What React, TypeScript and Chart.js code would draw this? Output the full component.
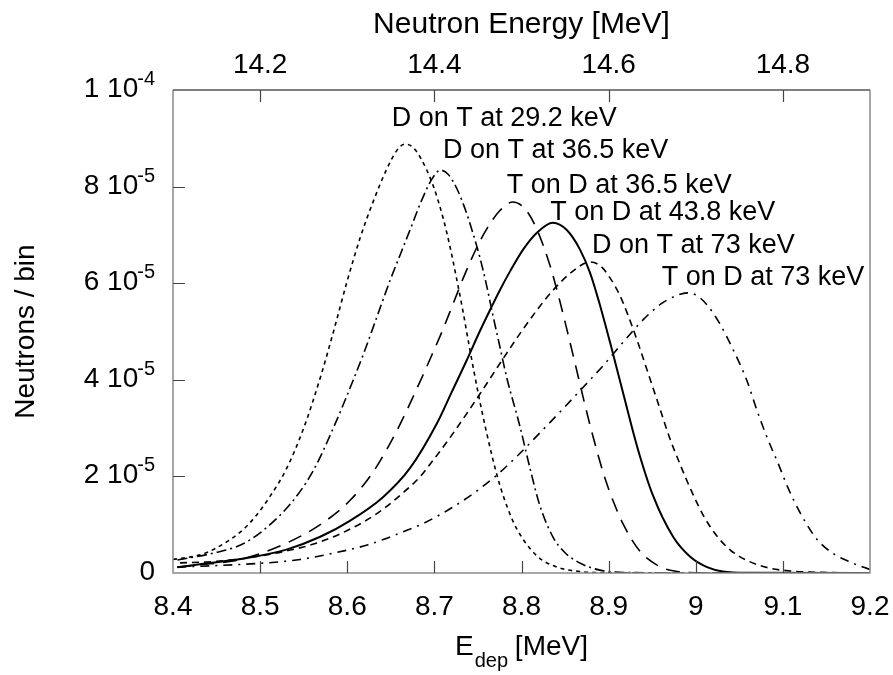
import React, { useEffect, useRef } from "react";
import { Chart, registerables } from "chart.js";

Chart.register(...registerables);

const FONT = '"Liberation Sans", Arial, Helvetica, sans-serif';

// ---- axes ----
const xTicks = [8.4, 8.5, 8.6, 8.7, 8.8, 8.9, 9.0, 9.1, 9.2];
const xTickLabels = ["8.4", "8.5", "8.6", "8.7", "8.8", "8.9", "9", "9.1", "9.2"];
const topTicks = [14.2, 14.4, 14.6, 14.8];
const topTickLabels = ["14.2", "14.4", "14.6", "14.8"];
const yTicks = [0, 2e-5, 4e-5, 6e-5, 8e-5, 1e-4];
const yTickLabels = ["0", "2 10^-5", "4 10^-5", "6 10^-5", "8 10^-5", "1 10^-4"];

// ---- series: D on T at 29.2 keV ----
const dt292X = [8.4, 8.43, 8.45, 8.48, 8.495, 8.51, 8.53, 8.55, 8.57, 8.585, 8.6, 8.615, 8.63, 8.645, 8.657, 8.666, 8.675, 8.684, 8.699, 8.71, 8.718, 8.726, 8.733, 8.741, 8.75, 8.76, 8.773, 8.785, 8.795, 8.818, 8.841, 8.867, 8.9, 9.0, 9.2];
const dt292Y = [2.8e-6, 3.7e-6, 5.2e-6, 8.9e-6, 1.18e-5, 1.55e-5, 2.15e-5, 3.0e-5, 4.1e-5, 5.05e-5, 6.05e-5, 6.95e-5, 7.7e-5, 8.35e-5, 8.75e-5, 8.88e-5, 8.82e-5, 8.6e-5, 8.0e-5, 7.35e-5, 6.75e-5, 6.05e-5, 5.4e-5, 4.6e-5, 3.75e-5, 2.9e-5, 1.95e-5, 1.3e-5, 9.0e-6, 3.5e-6, 1.2e-6, 3e-7, 5e-8, 0, 0];

// ---- series: D on T at 36.5 keV ----
const dt365X = [8.405, 8.446, 8.48, 8.508, 8.538, 8.561, 8.584, 8.607, 8.62, 8.634, 8.649, 8.661, 8.672, 8.685, 8.697, 8.707, 8.716, 8.726, 8.736, 8.744, 8.752, 8.76, 8.767, 8.775, 8.783, 8.798, 8.81, 8.821, 8.836, 8.85, 8.87, 8.89, 8.92, 9.0, 9.2];
const dt365Y = [2.7e-6, 4.1e-6, 6.0e-6, 9.5e-6, 1.5e-5, 2.12e-5, 3.0e-5, 4.0e-5, 4.6e-5, 5.3e-5, 6.05e-5, 6.6e-5, 7.1e-5, 7.7e-5, 8.15e-5, 8.34e-5, 8.25e-5, 7.95e-5, 7.5e-5, 7.05e-5, 6.55e-5, 5.95e-5, 5.35e-5, 4.7e-5, 4.05e-5, 3.05e-5, 2.15e-5, 1.4e-5, 7.5e-6, 4.2e-6, 1.8e-6, 6e-7, 1e-7, 0, 0];

// ---- series: T on D at 36.5 keV ----
const td365X = [8.405, 8.431, 8.469, 8.5, 8.534, 8.569, 8.603, 8.63, 8.657, 8.687, 8.698, 8.71, 8.721, 8.733, 8.749, 8.76, 8.775, 8.79, 8.805, 8.818, 8.833, 8.843, 8.852, 8.862, 8.876, 8.887, 8.896, 8.905, 8.917, 8.936, 8.959, 8.979, 9.0, 9.2];
const td365Y = [1.2e-6, 1.7e-6, 2.5e-6, 4.0e-6, 6.5e-6, 1.0e-5, 1.5e-5, 2.1e-5, 2.95e-5, 4.1e-5, 4.55e-5, 5.05e-5, 5.55e-5, 6.1e-5, 6.75e-5, 7.12e-5, 7.5e-5, 7.68e-5, 7.52e-5, 7.1e-5, 6.35e-5, 5.7e-5, 5.05e-5, 4.3e-5, 3.25e-5, 2.5e-5, 1.95e-5, 1.5e-5, 1.0e-5, 4.5e-6, 1.3e-6, 3e-7, 5e-8, 0];

// ---- series: T on D at 43.8 keV ----
const td438X = [8.405, 8.439, 8.488, 8.531, 8.569, 8.603, 8.641, 8.672, 8.703, 8.72, 8.737, 8.752, 8.764, 8.775, 8.787, 8.802, 8.818, 8.836, 8.852, 8.867, 8.879, 8.89, 8.902, 8.917, 8.933, 8.951, 8.974, 8.994, 9.013, 9.031, 9.06, 9.2];
const td438Y = [1.2e-6, 2.0e-6, 3.2e-6, 4.9e-6, 7.5e-6, 1.08e-5, 1.57e-5, 2.17e-5, 3.1e-5, 3.75e-5, 4.4e-5, 5.0e-5, 5.45e-5, 5.85e-5, 6.25e-5, 6.7e-5, 7.05e-5, 7.25e-5, 7.1e-5, 6.7e-5, 6.2e-5, 5.55e-5, 4.75e-5, 3.7e-5, 2.6e-5, 1.6e-5, 7.5e-6, 3.3e-6, 1.2e-6, 3e-7, 3e-8, 0];

// ---- series: D on T at 73 keV ----
const dt73X = [8.408, 8.45, 8.492, 8.526, 8.565, 8.6, 8.634, 8.664, 8.684, 8.695, 8.721, 8.752, 8.783, 8.798, 8.818, 8.836, 8.859, 8.879, 8.891, 8.902, 8.912, 8.922, 8.934, 8.946, 8.958, 8.97, 8.982, 8.995, 9.01, 9.025, 9.04, 9.06, 9.085, 9.11, 9.15, 9.2];
const dt73Y = [2.1e-6, 2.4e-6, 3.3e-6, 4.4e-6, 6.2e-6, 8.8e-6, 1.23e-5, 1.66e-5, 2.0e-5, 2.25e-5, 2.88e-5, 3.7e-5, 4.55e-5, 4.95e-5, 5.45e-5, 5.85e-5, 6.25e-5, 6.44e-5, 6.35e-5, 6.1e-5, 5.78e-5, 5.35e-5, 4.75e-5, 4.1e-5, 3.45e-5, 2.8e-5, 2.25e-5, 1.7e-5, 1.15e-5, 7.5e-6, 4.7e-6, 2.5e-6, 1.0e-6, 4e-7, 1e-7, 0];

// ---- series: T on D at 73 keV ----
const td73X = [8.405, 8.469, 8.508, 8.546, 8.584, 8.623, 8.661, 8.69, 8.72, 8.745, 8.77, 8.795, 8.82, 8.845, 8.87, 8.895, 8.92, 8.94, 8.96, 8.975, 8.99, 9.0, 9.013, 9.028, 9.043, 9.059, 9.07, 9.082, 9.095, 9.105, 9.12, 9.139, 9.158, 9.181, 9.2];
const td73Y = [1.2e-6, 1.7e-6, 2.1e-6, 2.8e-6, 4.1e-6, 5.8e-6, 8.3e-6, 1.05e-5, 1.35e-5, 1.65e-5, 2.0e-5, 2.42e-5, 2.88e-5, 3.35e-5, 3.83e-5, 4.32e-5, 4.85e-5, 5.25e-5, 5.57e-5, 5.72e-5, 5.8e-5, 5.76e-5, 5.55e-5, 5.15e-5, 4.62e-5, 3.97e-5, 3.38e-5, 2.8e-5, 2.25e-5, 1.8e-5, 1.24e-5, 7.0e-6, 4.0e-6, 2.0e-6, 7e-7];

// ---- curve labels (text + anchor in data coordinates) ----
const labelTexts = ["D on T at 29.2 keV", "D on T at 36.5 keV", "T on D at 36.5 keV", "T on D at 43.8 keV", "D on T at 73 keV", "T on D at 73 keV"];
const labelX = [8.651, 8.71, 8.783, 8.833, 8.881, 8.961];
const labelY = [9.255e-5, 8.59e-5, 7.87e-5, 7.31e-5, 6.625e-5, 5.96e-5];

const seriesList = [
  { name: labelTexts[0], xs: dt292X, ys: dt292Y, dash: [4, 4], width: 1.6 },
  { name: labelTexts[1], xs: dt365X, ys: dt365Y, dash: [10, 4, 2, 4], width: 1.6 },
  { name: labelTexts[2], xs: td365X, ys: td365Y, dash: [14, 9], width: 1.6 },
  { name: labelTexts[3], xs: td438X, ys: td438Y, dash: [], width: 2 },
  { name: labelTexts[4], xs: dt73X, ys: dt73Y, dash: [7, 5], width: 1.6 },
  { name: labelTexts[5], xs: td73X, ys: td73Y, dash: [9, 6, 2, 6], width: 1.6 },
];

const decorPlugin = {
  id: "decor",
  afterDraw(chart: any) {
    const { ctx, chartArea, scales } = chart;
    const { left, right, top, bottom } = chartArea;
    const sx = scales.x;
    const sx2 = scales.x2;
    const sy = scales.y;
    ctx.save();
    ctx.setLineDash([]);

    // frame
    ctx.lineWidth = 1.5;
    ctx.strokeStyle = "#8a8a8a";
    ctx.beginPath();
    ctx.moveTo(left, top);
    ctx.lineTo(left, bottom);
    ctx.lineTo(right, bottom);
    ctx.lineTo(right, top);
    ctx.stroke();
    ctx.strokeStyle = "#555";
    ctx.beginPath();
    ctx.moveTo(left, top);
    ctx.lineTo(right, top);
    ctx.stroke();

    // inward ticks
    ctx.strokeStyle = "#444";
    ctx.lineWidth = 1.2;
    const tl = 12;
    ctx.beginPath();
    xTicks.forEach((v) => {
      const px = Math.round(sx.getPixelForValue(v)) + 0.5;
      if (px > left + 2 && px < right - 2) {
        ctx.moveTo(px, bottom);
        ctx.lineTo(px, bottom - tl);
      }
    });
    topTicks.forEach((v) => {
      const px = Math.round(sx2.getPixelForValue(v)) + 0.5;
      ctx.moveTo(px, top);
      ctx.lineTo(px, top + tl);
    });
    yTicks.forEach((v) => {
      const py = Math.round(sy.getPixelForValue(v)) + 0.5;
      if (py > top + 2 && py < bottom - 2) {
        ctx.moveTo(left, py);
        ctx.lineTo(left + tl, py);
      }
    });
    ctx.stroke();

    ctx.fillStyle = "#000";
    ctx.textBaseline = "alphabetic";

    // bottom tick labels
    ctx.font = `28px ${FONT}`;
    ctx.textAlign = "center";
    xTicks.forEach((v, i) => {
      ctx.fillText(xTickLabels[i], sx.getPixelForValue(v), bottom + 42);
    });
    // top tick labels
    topTicks.forEach((v, i) => {
      ctx.fillText(topTickLabels[i], sx2.getPixelForValue(v), top - 17);
    });

    // y tick labels with superscript
    const rx = left - 18;
    yTicks.forEach((v, i) => {
      const py = sy.getPixelForValue(v);
      const parts = yTickLabels[i].split("^");
      ctx.textAlign = "right";
      if (parts.length > 1) {
        ctx.font = `20px ${FONT}`;
        const w2 = ctx.measureText(parts[1]).width;
        ctx.fillText(parts[1], rx, py - 5);
        ctx.font = `28px ${FONT}`;
        ctx.fillText(parts[0], rx - w2 + 1, py + 7);
      } else {
        ctx.font = `28px ${FONT}`;
        ctx.fillText(parts[0], rx, py + 7);
      }
    });

    // top title
    ctx.textAlign = "center";
    ctx.font = `30px ${FONT}`;
    ctx.fillText("Neutron Energy [MeV]", (left + right) / 2, 33);

    // bottom title E_dep [MeV]
    ctx.textAlign = "left";
    ctx.font = `28px ${FONT}`;
    const e = "E";
    const sub = "dep";
    const rest = " [MeV]";
    const wE = ctx.measureText(e).width;
    const wRest = ctx.measureText(rest).width;
    ctx.font = `20px ${FONT}`;
    const wSub = ctx.measureText(sub).width;
    const total = wE + wSub + wRest;
    let bx = (left + right) / 2 - total / 2;
    ctx.font = `28px ${FONT}`;
    ctx.fillText(e, bx, 655);
    bx += wE;
    ctx.font = `20px ${FONT}`;
    ctx.fillText(sub, bx + 1, 667);
    bx += wSub;
    ctx.font = `28px ${FONT}`;
    ctx.fillText(rest, bx, 655);

    // y title
    ctx.save();
    ctx.translate(34, (top + bottom) / 2);
    ctx.rotate(-Math.PI / 2);
    ctx.textAlign = "center";
    ctx.font = `28px ${FONT}`;
    ctx.fillText("Neutrons / bin", 0, 0);
    ctx.restore();

    // curve labels
    ctx.textAlign = "left";
    ctx.font = `27px ${FONT}`;
    labelTexts.forEach((t, i) => {
      ctx.fillText(t, sx.getPixelForValue(labelX[i]), sy.getPixelForValue(labelY[i]));
    });

    ctx.restore();
  },
};

export default function App() {
  const ref = useRef<HTMLCanvasElement | null>(null);
  useEffect(() => {
    if (!ref.current) return;
    const chart = new Chart(ref.current, {
      type: "line",
      data: {
        datasets: seriesList.map((s) => ({
          label: s.name,
          data: s.xs.map((x, i) => ({ x, y: s.ys[i] })),
          borderColor: "#000",
          backgroundColor: "#000",
          borderWidth: s.width,
          borderDash: s.dash,
          pointRadius: 0,
          fill: false,
          cubicInterpolationMode: "monotone" as const,
        })),
      },
      options: {
        animation: false,
        responsive: false,
        events: [],
        layout: { padding: { left: 173, right: 23, top: 90, bottom: 102 } },
        plugins: { legend: { display: false }, tooltip: { enabled: false } },
        scales: {
          x: { type: "linear", min: 8.4, max: 9.2, display: false },
          x2: { type: "linear", position: "top", min: 14.1, max: 14.9, display: false },
          y: { type: "linear", min: 0, max: 1e-4, display: false },
        },
      },
      plugins: [decorPlugin],
    });
    return () => chart.destroy();
  }, []);
  return (
    <div style={{ position: "absolute", left: 0, top: 0, width: 893, height: 675, background: "#fff" }}>
      <canvas ref={ref} width={893} height={675} style={{ display: "block" }} />
    </div>
  );
}
